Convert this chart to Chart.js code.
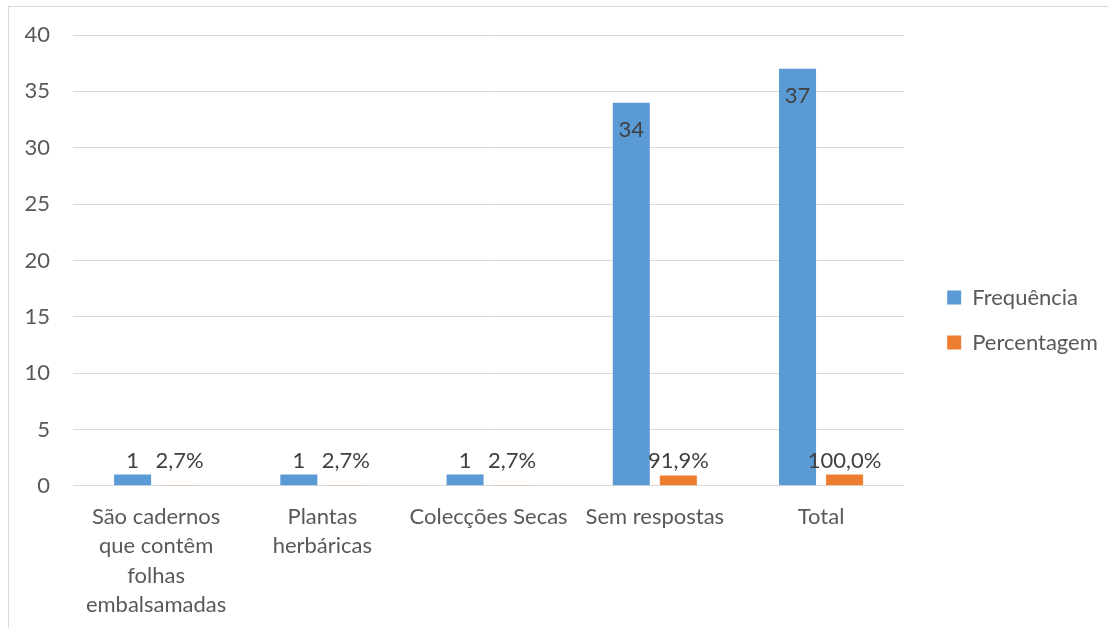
<!DOCTYPE html>
<html>
<head>
<meta charset="utf-8">
<script src="https://cdn.jsdelivr.net/npm/chart.js@4"></script>
<style>
  body { margin: 0; background: #fff; overflow: hidden; }
  #box { position: absolute; left: 8px; top: 6px; width: 1130px; height: 640px; border: 1px solid #d9d9d9; }
  #wrap { position: absolute; left: 0; top: 0; width: 1120px; height: 626px; }
</style>
</head>
<body>
<div id="box"><div id="wrap"><canvas id="myChart"></canvas></div></div>
<script>
// categories and series
const categories = [
  ['São cadernos', 'que contêm', 'folhas', 'embalsamadas'],
  ['Plantas', 'herbáricas'],
  'Colecções Secas',
  'Sem respostas',
  'Total'
];
const frequencia = [1, 1, 1, 34, 37];
const percentagem = [0.027, 0.027, 0.027, 0.919, 1.0];
const yTicks = [0, 5, 10, 15, 20, 25, 30, 35, 40];

const FONT = 'Lato, "Open Sans", sans-serif';
const FS = 22;

// little label drawer, Excel style: small bars get label above, tall bars inside the top
const valueLabels = {
  id: 'valueLabels',
  afterDatasetsDraw(chart) {
    const ctx = chart.ctx;
    const yScale = chart.scales.y;
    ctx.save();
    ctx.font = FS + 'px ' + FONT;
    ctx.fillStyle = '#404040';
    ctx.textAlign = 'center';
    ctx.textBaseline = 'middle';
    chart.data.datasets.forEach((ds, i) => {
      const meta = chart.getDatasetMeta(i);
      meta.data.forEach((bar, j) => {
        const v = ds.data[j];
        let txt = i === 0 ? String(v) : (v * 100).toFixed(1).replace('.', ',') + '%';
        let y;
        if (i === 0 && v > 5) y = bar.y + 27;
        else y = Math.min(bar.y, yScale.getPixelForValue(1)) - 14; // tiny bars share one label line
        ctx.fillText(txt, bar.x, y);
      });
    });
    ctx.restore();
  }
};

function initChart(target) {
  return new Chart(target, {
    type: 'bar',
    data: {
      labels: categories,
      datasets: [
        { label: 'Frequência', data: frequencia, backgroundColor: '#5b9bd5',
          categoryPercentage: 0.566, barPercentage: 0.787 },
        { label: 'Percentagem', data: percentagem, backgroundColor: '#ed7d31',
          categoryPercentage: 0.566, barPercentage: 0.787 }
      ]
    },
    options: {
      responsive: true,
      maintainAspectRatio: false,
      animation: false,
      layout: { padding: { top: 0, left: 16, right: 25, bottom: 0 } },
      plugins: {
        tooltip: { enabled: false },
        legend: {
          position: 'right',
          labels: {
            boxWidth: 14, boxHeight: 14, padding: 23,
            color: '#595959',
            font: { family: FONT, size: FS }
          }
        }
      },
      scales: {
        x: {
          grid: { display: false },
          border: { display: false },
          ticks: { color: '#595959', font: { family: FONT, size: FS, lineHeight: 1.32 }, maxRotation: 0, autoSkip: false, padding: 9 },
          afterFit: (axis) => { axis.paddingLeft = 0; axis.paddingRight = 0; axis.height += 5; }
        },
        y: {
          min: 0, max: 40,
          afterBuildTicks: (axis) => { axis.ticks = yTicks.map(v => ({ value: v })); },
          grid: { color: '#d9d9d9', drawTicks: false },
          border: { display: false },
          ticks: { color: '#595959', font: { family: FONT, size: FS }, padding: 23 },
          afterFit: (axis) => { axis.width = 48; axis.paddingTop = 0; axis.paddingBottom = 0; }
        },
        // empty spacers: above the plot, and between plot and legend
        gapTop: {
          type: 'category', position: 'top', display: true,
          grid: { display: false }, border: { display: false },
          ticks: { display: false },
          afterFit: (axis) => { axis.height = 28; axis.paddingLeft = 0; axis.paddingRight = 0; }
        },
        gap: {
          type: 'linear', position: 'right', display: true,
          grid: { display: false }, border: { display: false },
          ticks: { display: false },
          afterFit: (axis) => { axis.width = 20; }
        }
      }
    },
    plugins: [valueLabels]
  });
}

document.addEventListener('DOMContentLoaded', () => {
  initChart(document.querySelector('#myChart'));
});
</script>
</body>
</html>
